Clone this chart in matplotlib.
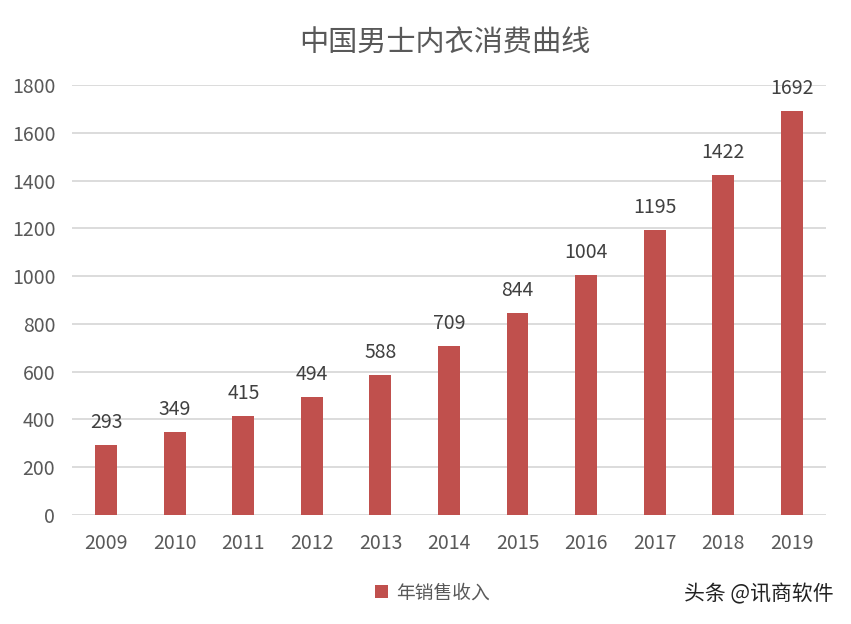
import matplotlib
matplotlib.use("Agg")
import matplotlib.pyplot as plt
from matplotlib.patches import Patch

plt.rcParams['font.family'] = ['Noto Sans CJK SC', 'DejaVu Sans']

years = ['2009', '2010', '2011', '2012', '2013', '2014', '2015', '2016', '2017', '2018', '2019']
sales = [293, 349, 415, 494, 588, 709, 844, 1004, 1195, 1422, 1692]
bar_color = '#C0504D'

fig = plt.figure(figsize=(8.51, 6.24), dpi=100)
ax = fig.add_axes([0.0846, 0.1747, 0.886, 0.689])

x = range(len(years))
bars = ax.bar(x, sales, width=0.32, color=bar_color, zorder=3)
for xi, v in zip(x, sales):
    ax.text(xi, v + 50, str(v), ha='center', va='bottom', fontsize=14, color='#404040')

ax.set_xlim(-0.5, len(years) - 0.5)
ax.set_ylim(0, 1800)
ax.set_yticks(range(0, 1801, 200))
ax.set_xticks(list(x))
ax.set_xticklabels(years)
ax.grid(axis='y', color='#D9D9D9', linewidth=1.3, zorder=0)
for s in ax.spines.values():
    s.set_visible(False)
ax.tick_params(axis='both', length=0, labelsize=14, labelcolor='#595959')
ax.tick_params(axis='x', pad=13)
ax.tick_params(axis='y', pad=12)

fig.text(0.523, 0.93, '中国男士内衣消费曲线', ha='center', va='center', fontsize=21, color='#595959')

handle = Patch(facecolor=bar_color)
fig.legend([handle], ['年销售收入'], loc='center', bbox_to_anchor=(0.508, 0.05),
           frameon=False, fontsize=13.5, labelcolor='#595959',
           handlelength=0.7, handleheight=0.7, handletextpad=0.4)

fig.text(0.98, 0.048, '头条 @讯商软件', ha='right', va='center', fontsize=15, color='#222222')

fig.savefig('out.png', dpi=100)
